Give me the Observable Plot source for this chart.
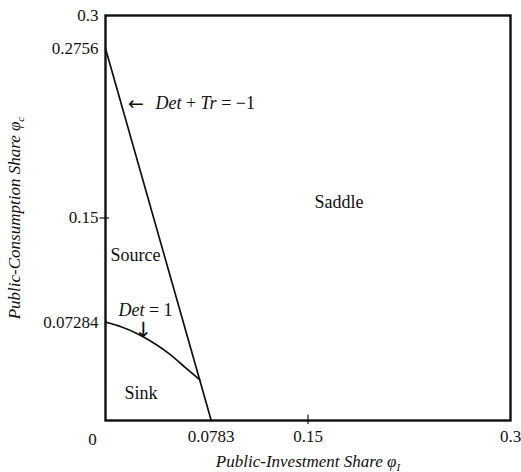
<!DOCTYPE html>
<html><head><meta charset="utf-8">
<script src="https://cdn.jsdelivr.net/npm/d3@7"></script>
<script src="https://cdn.jsdelivr.net/npm/@observablehq/plot@0.6"></script>
<style>
body{margin:0;background:#fff}
</style>
</head><body><div id="chart"></div>
<script>
// Det + Tr = -1 boundary (straight line from 0.2756 on the y axis to 0.0783 on the x axis)
const boundaryX = [0, 0.0697, 0.0783];
const boundaryY = [0.2756, 0.0303, 0];
// Det = 1 curve
const detX = [0, 0.012, 0.024, 0.036, 0.048, 0.059, 0.0697];
const detY = [0.07284, 0.0693, 0.0641, 0.0572, 0.0488, 0.0393, 0.0303];
// tick labels
const xTickVals = [0.0783, 0.15, 0.3];
const xTickLabels = ["0.0783", "0.15", "0.3"];
const yTickVals = [0.07284, 0.15, 0.2756, 0.3];
const yTickLabels = ["0.07284", "0.15", "0.2756", "0.3"];
const markTicks = [0.15];

const boundary = boundaryX.map((x, i) => ({x, y: boundaryY[i]}));
const det = detX.map((x, i) => ({x, y: detY[i]}));
const fmt = (vals, labels) => d => labels[vals.indexOf(d)];
const SERIF = "'Liberation Serif', 'Times New Roman', serif";
const ARROWFONT = "'DejaVu Sans', sans-serif";

const chart = Plot.plot({
  width: 521, height: 472,
  marginLeft: 105, marginRight: 11, marginTop: 15, marginBottom: 52,
  style: {fontSize: "18px", fontFamily: SERIF, color: "#111"},
  x: {domain: [0, 0.3]},
  y: {domain: [0, 0.3]},
  marks: [
    Plot.axisX(xTickVals, {tickSize: 0, tickPadding: 9, tickFormat: fmt(xTickVals, xTickLabels),
      label: "Public-Investment Share φ", labelAnchor: "center", labelOffset: 46, labelArrow: false,
      fontSize: 17}),
    Plot.axisY(yTickVals, {tickSize: 0, tickPadding: 7, tickFormat: fmt(yTickVals, yTickLabels),
      label: "Public-Consumption Share φ", labelAnchor: "center", labelOffset: 98, labelArrow: false,
      fontSize: 17}),
    Plot.text([0], {x: 0, y: 0, text: () => "0", dx: -13, dy: 19, fontSize: 17}),
    Plot.ruleX(markTicks, {y1: -0.003, y2: 0.004, strokeWidth: 1.2, clip: false}),
    Plot.ruleY(markTicks, {x1: -0.004, x2: 0.003, strokeWidth: 1.2, clip: false}),
    Plot.frame({strokeWidth: 2.4, stroke: "#111"}),
    Plot.line(boundary, {x: "x", y: "y", strokeWidth: 1.7, stroke: "#111"}),
    Plot.line(det, {x: "x", y: "y", curve: "natural", strokeWidth: 1.7, stroke: "#111"}),
    Plot.text(["\u2190\uFE0E"], {x: 0.0225, y: 0.2348, text: d => d, fontSize: 19, fill: "#111"}),
    Plot.text(["Det + Tr = −1"], {x: 0.037, y: 0.2348, text: d => d, textAnchor: "start", fontSize: 18}),
    Plot.text(["Source"], {x: 0.0037, y: 0.1222, text: d => d, textAnchor: "start", fontSize: 18}),
    Plot.text(["Saddle"], {x: 0.173, y: 0.162, text: d => d, fontSize: 18}),
    Plot.text(["Sink"], {x: 0.014, y: 0.020, text: d => d, textAnchor: "start", fontSize: 18}),
    Plot.text(["Det = 1"], {x: 0.0096, y: 0.0815, text: d => d, textAnchor: "start", fontSize: 18}),
    Plot.text(["\u2193\uFE0E"], {x: 0.028, y: 0.0665, text: d => d, fontSize: 21, fill: "#111"})
  ]
});
document.getElementById("chart").appendChild(chart);

// typographic touches: serif font everywhere, italic math variables, subscripts, arrow glyph font
const svg = d3.select(chart);
svg.style("font-family", SERIF, "important");
svg.selectAll("g, text").style("font-family", SERIF, "important");
svg.selectAll("text").each(function() {
  const t = this.textContent;
  const el = d3.select(this);
  if (t.startsWith("\u2190") || t.startsWith("\u2193")) {
    el.style("font-family", ARROWFONT, "important").attr("fill", "#111");
  } else if (t === "Det + Tr = −1") {
    el.text(null);
    el.append("tspan").attr("font-style", "italic").text("Det");
    el.append("tspan").text(" + ");
    el.append("tspan").attr("font-style", "italic").text("Tr");
    el.append("tspan").text(" = −1");
  } else if (t === "Det = 1") {
    el.text(null);
    el.append("tspan").attr("font-style", "italic").text("Det");
    el.append("tspan").text(" = 1");
  } else if (t === "Public-Investment Share φ") {
    el.attr("font-style", "italic");
    el.append("tspan").attr("font-size", "11px").attr("dy", "4").text("I");
  } else if (t === "Public-Consumption Share φ") {
    el.attr("font-style", "italic");
    el.append("tspan").attr("font-size", "11px").attr("dy", "4").text("c");
  }
});
</script>
</body></html>
